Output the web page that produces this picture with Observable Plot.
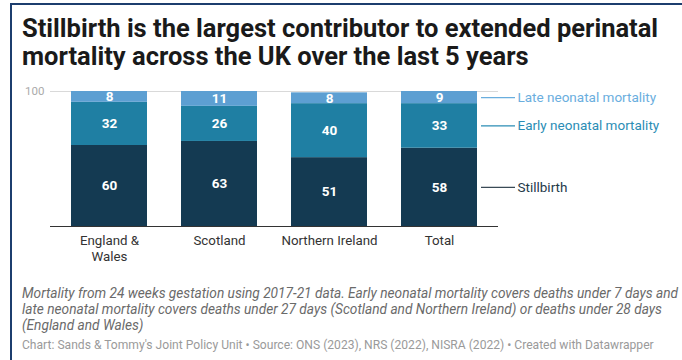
<!DOCTYPE html>
<html>
<head>
<meta charset="utf-8">
<script src="https://cdn.jsdelivr.net/npm/d3@7"></script>
<script src="https://cdn.jsdelivr.net/npm/@observablehq/plot@0.6"></script>
<style>
  html, body { margin: 0; padding: 0; background: #fff; }
  body { width: 682px; height: 360px; overflow: hidden; position: relative; font-family: Roboto, "Noto Sans", sans-serif; }
  #frame { position: absolute; left: 10px; top: 3px; right: 0; bottom: 0; border-top: 2px solid #1c3d6e; border-left: 2px solid #1c3d6e; }
  #title { position: absolute; left: 22px; top: 14px; width: 655px; font-size: 25.5px; font-weight: 700; line-height: 28px; color: #1a1a1a; }
  #chart { position: absolute; left: 0; top: 80px; }
  #caption { position: absolute; left: 22px; top: 285px; width: 660px; font-size: 13.7px; font-style: italic; line-height: 16px; color: #6a6a6a; }
  #source { position: absolute; left: 22px; top: 338px; font-size: 12.1px; color: #9a9a9a; white-space: nowrap; }
</style>
</head>
<body>
<div id="frame"></div>
<div id="title">Stillbirth is the largest contributor to extended perinatal mortality across the UK over the last 5 years</div>
<div id="chart"></div>
<div id="caption">Mortality from 24 weeks gestation using 2017-21 data. Early neonatal mortality covers deaths under 7 days and late neonatal mortality covers deaths under 27 days (Scotland and Northern Ireland) or deaths under 28 days (England and Wales)</div>
<div id="source">Chart: Sands &amp; Tommy's Joint Policy Unit • Source: ONS (2023), NRS (2022), NISRA (2022) • Created with Datawrapper</div>
<script>
const categories = ["England & Wales", "Scotland", "Northern Ireland", "Total"];
const tickLabels = ["England &\nWales", "Scotland", "Northern Ireland", "Total"];
const seriesNames = ["Stillbirth", "Early neonatal mortality", "Late neonatal mortality"];
const stillbirth = [60, 63, 51, 58];
const earlyNeonatal = [32, 26, 40, 33];
const lateNeonatal = [8, 11, 8, 9];
const barColors = ["#143a52", "#1f7fa3", "#5d9fd2"];
const labelColors = ["#24394a", "#2b8db5", "#6aaede"];
const lineColors = ["#3a4a56", "#2b8db5", "#6aaede"];

const seriesValues = [stillbirth, earlyNeonatal, lateNeonatal];
const rows = [];
seriesNames.forEach((s, si) => {
  categories.forEach((c, ci) => {
    rows.push({category: c, series: s, value: seriesValues[si][ci]});
  });
});
const labelFor = new Map(categories.map((c, i) => [c, tickLabels[i]]));
const isTotal = d => d.category === "Total";

const chart = Plot.plot({
  width: 682,
  height: 192,
  marginLeft: 50,
  marginRight: 184,
  marginTop: 11,
  marginBottom: 46,
  style: {fontFamily: "Roboto, 'Noto Sans', sans-serif", background: "transparent"},
  x: {domain: categories, paddingInner: 0.31, paddingOuter: 0.18, label: null},
  y: {domain: [0, 100], label: null},
  color: {domain: seriesNames, range: barColors},
  marks: [
    Plot.ruleY([100], {stroke: "#d9d9d9"}),
    Plot.barY(rows, {x: "category", y: "value", fill: "series"}),
    Plot.text(rows, Plot.stackY({x: "category", y: "value", text: d => String(d.value),
      fill: "#ffffff", fontSize: 13.5, fontWeight: 700})),
    Plot.tickY(rows, Plot.stackY({filter: isTotal, x: "category", y: "value",
      stroke: d => lineColors[seriesNames.indexOf(d.series)], strokeWidth: 1.2,
      dx: 80, insetRight: 42})),
    Plot.text(rows, Plot.stackY({filter: isTotal, x: "category", y: "value", text: "series",
      fill: d => labelColors[seriesNames.indexOf(d.series)], textAnchor: "start",
      dx: 78, fontSize: 13.5})),
    Plot.ruleY([0], {stroke: "#333333"}),
    Plot.axisY({ticks: [100], tickSize: 0, tickPadding: 6, fontSize: 11.5, color: "#aaaaaa", label: null}),
    Plot.axisX({tickSize: 0, tickPadding: 8, fontSize: 13.3, color: "#333333", label: null,
      tickFormat: c => labelFor.get(c), lineHeight: 1.15})
  ]
});
document.getElementById("chart").appendChild(chart);
</script>
</body>
</html>
